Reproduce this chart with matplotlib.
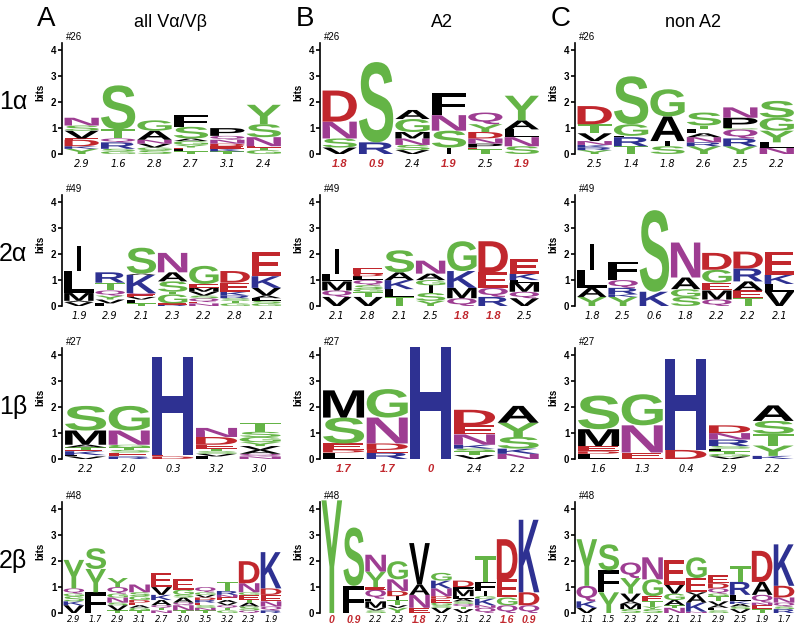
import matplotlib
matplotlib.use('Agg')
import matplotlib.pyplot as plt
from matplotlib.textpath import TextPath
from matplotlib.patches import PathPatch
from matplotlib.font_manager import FontProperties
from matplotlib.transforms import Affine2D

plt.rcParams['font.family'] = ['Liberation Sans', 'DejaVu Sans']

GREEN = '#64b446'
RED = '#c1272d'
BLUE = '#2e3192'
PURPLE = '#9e3d92'
BLACK = '#000000'

COLOR = {}
for c in 'SGTYC':
    COLOR[c] = GREEN
for c in 'DE':
    COLOR[c] = RED
for c in 'KRH':
    COLOR[c] = BLUE
for c in 'NQ':
    COLOR[c] = PURPLE
for c in 'AVLIPWFM':
    COLOR[c] = BLACK

# ---- data: stacks listed bottom -> top, (letter, bits) ----
# 1 alpha
a1_all = [
    [('Y', 0.2), ('K', 0.1), ('D', 0.25), ('E', 0.05), ('V', 0.3), ('S', 0.2), ('N', 0.3)],
    [('G', 0.1), ('S', 0.1), ('R', 0.25), ('Q', 0.15), ('T', 0.35), ('S', 1.7)],
    [('S', 0.15), ('G', 0.1), ('V', 0.15), ('N', 0.15), ('A', 0.35), ('G', 0.4)],
    [('T', 0.1), ('L', 0.1), ('E', 0.05), ('Y', 0.1), ('G', 0.15), ('A', 0.1), ('S', 0.45), ('F', 0.45)],
    [('T', 0.1), ('K', 0.1), ('E', 0.1), ('D', 0.1), ('N', 0.15), ('Q', 0.15), ('P', 0.3)],
    [('G', 0.15), ('T', 0.1), ('E', 0.05), ('N', 0.35), ('S', 0.5), ('Y', 0.75)],
]
a1_all_num = ['2.9', '1.6', '2.8', '2.7', '3.1', '2.4']
a1_a2 = [
    [('V', 0.25), ('S', 0.35), ('N', 0.65), ('D', 1.2)],
    [('R', 0.45), ('S', 3.1)],
    [('V', 0.15), ('S', 0.2), ('N', 0.25), ('M', 0.25), ('G', 0.5), ('A', 0.35)],
    [('I', 0.25), ('S', 0.65), ('N', 0.6), ('F', 0.85)],
    [('T', 0.2), ('E', 0.05), ('P', 0.15), ('N', 0.2), ('D', 0.25), ('Y', 0.3), ('Q', 0.45)],
    [('S', 0.3), ('N', 0.35), ('L', 0.3), ('A', 0.35), ('Y', 0.95)],
]
a1_a2_num = ['1.8', '0.9', '2.4', '1.9', '2.5', '1.9']
a1_a2_red = [0, 1, 3, 5]
a1_non = [
    [('Y', 0.15), ('R', 0.1), ('K', 0.1), ('N', 0.15), ('V', 0.3), ('T', 0.35), ('D', 0.7)],
    [('T', 0.3), ('R', 0.35), ('L', 0.05), ('G', 0.45), ('S', 1.85)],
    [('S', 0.3), ('I', 0.2), ('A', 0.95), ('G', 1.05)],
    [('Y', 0.3), ('R', 0.15), ('N', 0.2), ('A', 0.15), ('L', 0.15), ('T', 0.15), ('S', 0.5)],
    [('Y', 0.3), ('R', 0.3), ('Q', 0.35), ('G', 0.05), ('P', 0.4), ('N', 0.4)],
    [('N', 0.25), ('L', 0.2), ('Y', 0.45), ('G', 0.5), ('S', 0.65)],
]
a1_non_num = ['2.5', '1.4', '1.8', '2.6', '2.5', '2.2']

# 2 alpha
a2_all = [
    [('V', 0.15), ('A', 0.05), ('M', 0.3), ('L', 0.85), ('I', 0.95)],
    [('L', 0.1), ('V', 0.15), ('Y', 0.15), ('Q', 0.2), ('T', 0.3), ('R', 0.4)],
    [('T', 0.1), ('L', 0.15), ('V', 0.1), ('E', 0.1), ('Q', 0.05), ('K', 0.7), ('A', 0.05), ('S', 1.0)],
    [('R', 0.05), ('E', 0.05), ('G', 0.35), ('T', 0.1), ('S', 0.4), ('A', 0.35), ('N', 0.75)],
    [('N', 0.1), ('E', 0.05), ('Q', 0.15), ('S', 0.1), ('V', 0.15), ('M', 0.15), ('E', 0.15), ('G', 0.7)],
    [('G', 0.1), ('T', 0.1), ('S', 0.1), ('R', 0.1), ('K', 0.15), ('E', 0.35), ('D', 0.45)],
    [('G', 0.1), ('S', 0.1), ('L', 0.1), ('A', 0.1), ('V', 0.3), ('K', 0.45), ('E', 0.95)],
]
a2_all_num = ['1.9', '2.9', '2.1', '2.3', '2.2', '2.8', '2.1']
a2_a2 = [
    [('V', 0.35), ('Q', 0.25), ('M', 0.35), ('L', 0.3), ('I', 0.95)],
    [('V', 0.35), ('T', 0.2), ('G', 0.1), ('S', 0.15), ('Q', 0.2), ('L', 0.15), ('D', 0.1), ('E', 0.2)],
    [('T', 0.35), ('L', 0.3), ('K', 0.35), ('A', 0.3), ('S', 0.85)],
    [('Y', 0.2), ('S', 0.3), ('I', 0.3), ('G', 0.2), ('A', 0.25), ('N', 0.5)],
    [('Q', 0.3), ('M', 0.4), ('K', 0.65), ('G', 1.15)],
    [('R', 0.35), ('Q', 0.35), ('E', 0.6), ('D', 1.2)],
    [('V', 0.3), ('Q', 0.25), ('M', 0.35), ('L', 0.1), ('K', 0.25), ('E', 0.55)],
]
a2_a2_num = ['2.1', '2.8', '2.1', '2.5', '1.8', '1.8', '2.5']
a2_a2_red = [4, 5]
a2_non = [
    [('Y', 0.35), ('A', 0.35), ('L', 0.7), ('I', 1.0)],
    [('Y', 0.35), ('K', 0.1), ('R', 0.25), ('Q', 0.3), ('L', 0.1), ('F', 0.6)],
    [('K', 0.55), ('S', 3.15)],
    [('S', 0.35), ('G', 0.3), ('A', 0.45), ('N', 1.35)],
    [('Q', 0.25), ('M', 0.35), ('E', 0.3), ('G', 0.5), ('D', 0.65)],
    [('T', 0.3), ('E', 0.3), ('A', 0.35), ('R', 0.5), ('D', 0.65)],
    [('V', 0.55), ('L', 0.3), ('K', 0.35), ('E', 0.9)],
]
a2_non_num = ['1.8', '2.5', '0.6', '1.8', '2.2', '2.2', '2.1']

# 1 beta
b1_all = [
    [('V', 0.1), ('L', 0.05), ('K', 0.15), ('E', 0.05), ('T', 0.1), ('A', 0.1), ('M', 0.55), ('S', 0.95)],
    [('R', 0.1), ('E', 0.15), ('S', 0.1), ('T', 0.1), ('G', 0.1), ('N', 0.55), ('G', 0.95)],
    [('D', 0.1), ('E', 0.05), ('H', 3.8)],
    [('L', 0.1), ('V', 0.1), ('S', 0.1), ('T', 0.1), ('E', 0.15), ('D', 0.3), ('N', 0.35)],
    [('N', 0.1), ('Q', 0.1), ('A', 0.15), ('V', 0.15), ('Y', 0.15), ('G', 0.2), ('S', 0.2), ('T', 0.35)],
]
b1_all_num = ['2.2', '2.0', '0.3', '3.2', '3.0']
b1_a2 = [
    [('L', 0.25), ('D', 0.1), ('E', 0.25), ('S', 1.0), ('M', 1.05)],
    [('R', 0.25), ('E', 0.1), ('D', 0.25), ('N', 1.0), ('G', 1.1)],
    [('H', 4.32)],
    [('V', 0.15), ('T', 0.15), ('S', 0.1), ('K', 0.15), ('N', 0.4), ('E', 0.35), ('D', 0.6)],
    [('N', 0.2), ('K', 0.2), ('S', 0.45), ('Y', 0.55), ('A', 0.65)],
]
b1_a2_num = ['1.7', '1.7', '0', '2.4', '2.2']
b1_a2_red = [0, 1, 2]
b1_non = [
    [('L', 0.2), ('D', 0.1), ('E', 0.2), ('M', 0.65), ('S', 1.3)],
    [('E', 0.25), ('N', 1.05), ('G', 1.2)],
    [('D', 0.35), ('H', 3.5)],
    [('V', 0.1), ('G', 0.1), ('T', 0.1), ('L', 0.1), ('S', 0.1), ('R', 0.25), ('N', 0.25), ('D', 0.3)],
    [('K', 0.12), ('Y', 0.4), ('T', 0.45), ('S', 0.5), ('A', 0.6)],
]
b1_non_num = ['1.6', '1.3', '0.4', '2.9', '2.2']

# 2 beta
b2_all = [
    [('V', 0.3), ('K', 0.15), ('S', 0.2), ('G', 0.1), ('Q', 0.2), ('Y', 1.1)],
    [('F', 0.8), ('Y', 0.9), ('S', 0.8)],
    [('T', 0.1), ('V', 0.2), ('S', 0.1), ('N', 0.2), ('G', 0.15), ('Q', 0.25), ('Y', 0.35)],
    [('T', 0.1), ('G', 0.1), ('A', 0.1), ('E', 0.1), ('D', 0.1), ('G', 0.15), ('S', 0.15), ('N', 0.3)],
    [('N', 0.1), ('T', 0.1), ('Q', 0.1), ('A', 0.2), ('K', 0.2), ('V', 0.3), ('E', 0.55)],
    [('T', 0.1), ('N', 0.2), ('Q', 0.1), ('A', 0.2), ('S', 0.1), ('G', 0.2), ('E', 0.4)],
    [('T', 0.1), ('N', 0.1), ('S', 0.1), ('E', 0.1), ('R', 0.1), ('D', 0.1), ('V', 0.1), ('G', 0.1), ('Q', 0.2)],
    [('G', 0.1), ('T', 0.1), ('Q', 0.1), ('V', 0.1), ('A', 0.1), ('E', 0.1), ('N', 0.1), ('R', 0.15), ('T', 0.35)],
    [('Q', 0.1), ('S', 0.15), ('A', 0.15), ('T', 0.1), ('E', 0.2), ('G', 0.1), ('N', 0.35), ('D', 0.85)],
    [('R', 0.1), ('Q', 0.15), ('N', 0.2), ('E', 0.25), ('D', 0.25), ('K', 1.4)],
]
b2_all_num = ['2.9', '1.7', '2.9', '3.1', '2.7', '3.0', '3.5', '3.2', '2.3', '1.9']
b2_a2 = [
    [('Y', 4.35)],
    [('F', 1.05), ('S', 2.25)],
    [('S', 0.1), ('V', 0.1), ('M', 0.25), ('L', 0.1), ('Q', 0.35), ('E', 0.1), ('Y', 0.6), ('N', 0.65)],
    [('Y', 0.2), ('V', 0.1), ('T', 0.2), ('I', 0.15), ('D', 0.2), ('N', 0.45), ('G', 0.7)],
    [('E', 0.2), ('N', 0.5), ('A', 0.4), ('V', 1.6)],
    [('V', 0.2), ('S', 0.1), ('G', 0.1), ('E', 0.15), ('D', 0.1), ('N', 0.3), ('K', 0.3), ('G', 0.3)],
    [('V', 0.15), ('T', 0.1), ('Q', 0.1), ('S', 0.1), ('A', 0.1), ('L', 0.1), ('M', 0.25), ('F', 0.1), ('D', 0.25)],
    [('Q', 0.2), ('N', 0.1), ('K', 0.25), ('G', 0.1), ('I', 0.2), ('F', 0.35), ('T', 1.0)],
    [('Q', 0.3), ('G', 0.3), ('E', 0.7), ('D', 1.55)],
    [('Q', 0.3), ('D', 0.5), ('K', 2.8)],
]
b2_a2_num = ['0', '0.9', '2.2', '2.3', '1.8', '2.7', '3.1', '2.2', '1.6', '0.9']
b2_a2_red = [0, 1, 4, 8, 9]
b2_non = [
    [('V', 0.2), ('K', 0.25), ('Q', 0.6), ('Y', 1.8)],
    [('Y', 0.8), ('F', 0.85), ('S', 1.0)],
    [('S', 0.15), ('M', 0.2), ('A', 0.1), ('V', 0.3), ('Y', 0.6), ('Q', 0.6)],
    [('S', 0.15), ('Y', 0.1), ('T', 0.2), ('E', 0.2), ('G', 0.65), ('N', 0.85)],
    [('N', 0.2), ('T', 0.1), ('A', 0.2), ('G', 0.25), ('V', 0.35), ('E', 0.95)],
    [('N', 0.05), ('K', 0.35), ('A', 0.3), ('V', 0.1), ('E', 0.55), ('G', 0.8)],
    [('S', 0.1), ('L', 0.1), ('A', 0.1), ('V', 0.15), ('T', 0.2), ('G', 0.1), ('Q', 0.2), ('D', 0.2), ('E', 0.3)],
    [('V', 0.15), ('S', 0.1), ('A', 0.1), ('K', 0.1), ('L', 0.25), ('R', 0.5), ('T', 0.6)],
    [('T', 0.15), ('E', 0.15), ('N', 0.1), ('Q', 0.3), ('A', 0.5), ('D', 1.2)],
    [('R', 0.15), ('S', 0.1), ('Q', 0.15), ('N', 0.2), ('D', 0.45), ('K', 1.6)],
]
b2_non_num = ['1.1', '1.5', '2.3', '2.2', '2.1', '2.1', '2.9', '2.5', '1.9', '1.7']

row_names = ['1\u03b1', '2\u03b1', '1\u03b2', '2\u03b2']
row_tags = ['#26', '#49', '#27', '#48']
col_letters = ['A', 'B', 'C']
col_titles = ['all V\u03b1/V\u03b2', 'A2', 'non A2']

LOGO_FONT = FontProperties(family='Liberation Sans', weight='bold')


def draw_letter(ax, letter, x, y, w, h):
    tp = TextPath((0, 0), letter, size=1, prop=LOGO_FONT)
    ext = tp.get_extents()
    if letter == 'I':
        w2 = w * 0.14
        x = x + (w - w2) / 2
        w = w2
    tr = Affine2D().translate(-ext.x0, -ext.y0).scale(w / ext.width, h / ext.height).translate(x, y)
    ax.add_patch(PathPatch(tr.transform_path(tp), facecolor=COLOR[letter],
                           edgecolor='none', clip_on=False))


def logo(ax, stacks, nums, red=(), tag='', small=False):
    for i, stack in enumerate(stacks):
        y = 0
        for letter, h in stack:
            draw_letter(ax, letter, i + 0.03, y, 0.94, h)
            y += h
    ax.set_xlim(-0.04, len(stacks))
    ax.set_ylim(0, 4.3)
    for side in ['top', 'right', 'bottom']:
        ax.spines[side].set_visible(False)
    ax.spines['left'].set_linewidth(1.2)
    ax.set_xticks([])
    ax.set_yticks([0, 1, 2, 3, 4])
    ax.tick_params(axis='y', length=3, width=1.2, pad=1, labelsize=7)
    for lab in ax.get_yticklabels():
        lab.set_fontweight('bold')
    ax.set_ylabel('bits', fontweight='bold', fontsize=7)
    ax.yaxis.set_label_coords(-0.075, 0.55)
    ax.text(0.02, 1.01, tag, transform=ax.transAxes, fontsize=7, va='bottom', ha='left')
    num_y = -0.27 if small else -0.38
    for i, t in enumerate(nums):
        if i in red:
            ax.text(i + 0.5, num_y, t, color=RED, fontweight='bold', style='italic',
                    fontsize=7.5 if small else 8, ha='center', va='center')
        else:
            ax.text(i + 0.5, num_y, t, color='black', style='italic',
                    family=['DejaVu Sans'],
                    fontsize=6 if small else 7, ha='center', va='center')


fig = plt.figure(figsize=(8.07, 6.27), dpi=100)
W, H = 807.0, 627.0
col_x = [62, 320, 575]
row_y0 = [154, 306, 459, 613]
ax_w = 220
ax_h = 4.3 * 25.9

panels = [
    [(a1_all, a1_all_num, []), (a1_a2, a1_a2_num, a1_a2_red), (a1_non, a1_non_num, [])],
    [(a2_all, a2_all_num, []), (a2_a2, a2_a2_num, a2_a2_red), (a2_non, a2_non_num, [])],
    [(b1_all, b1_all_num, []), (b1_a2, b1_a2_num, b1_a2_red), (b1_non, b1_non_num, [])],
    [(b2_all, b2_all_num, []), (b2_a2, b2_a2_num, b2_a2_red), (b2_non, b2_non_num, [])],
]

for r in range(4):
    for c in range(3):
        ax = fig.add_axes([col_x[c] / W, 1 - row_y0[r] / H, ax_w / W, ax_h / H])
        stacks, nums, red = panels[r][c]
        logo(ax, stacks, nums, red, row_tags[r], small=(r == 3))
    fig.text(13 / W, 1 - (row_y0[r] - 52) / H, row_names[r], fontsize=18,
             ha='center', va='center')

title_x = [170, 442, 693]
letter_x = [37, 296, 551]
for c in range(3):
    fig.text(letter_x[c] / W, 1 - 26 / H, col_letters[c], fontsize=20, ha='left', va='baseline')
    fig.text(title_x[c] / W, 1 - 27 / H, col_titles[c], fontsize=13, ha='center', va='baseline')

fig.savefig('out.png', dpi=100)
